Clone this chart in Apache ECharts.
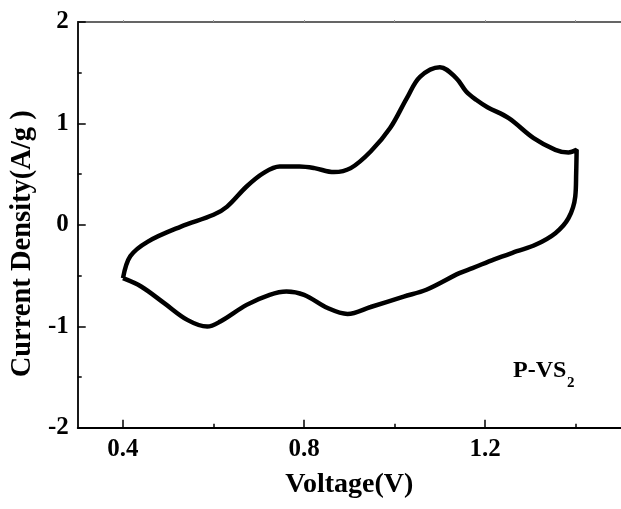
<!DOCTYPE html>
<html>
<head>
<meta charset="utf-8">
<script src="https://cdn.jsdelivr.net/npm/echarts@6/dist/echarts.min.js"></script>
<style>
  html, body { margin: 0; padding: 0; background: #fff; }
  #chart { width: 621px; height: 509px; }
</style>
</head>
<body>
<div id="chart"></div>
<script>
// CV 曲线：上半支（正扫）+ 下半支（回扫），按顺序连成闭环
const voltage = [
  0.400, 0.416, 0.455, 0.528, 0.600, 0.630, 0.673, 0.710, 0.746, 0.790,
  0.823, 0.866, 0.903, 0.947, 0.990, 1.027, 1.056, 1.100, 1.136, 1.158,
  1.180, 1.205, 1.252, 1.307, 1.355, 1.384, 1.402,
  1.401, 1.399, 1.384, 1.355, 1.311, 1.270, 1.220, 1.172, 1.143, 1.070,
  1.020, 0.947, 0.896, 0.852, 0.800, 0.761, 0.724, 0.673, 0.615, 0.586,
  0.542, 0.491, 0.440, 0.400
]
const current = [
  -0.526, -0.310, -0.165, -0.017, 0.099, 0.180, 0.378, 0.510, 0.575, 0.575,
  0.559, 0.520, 0.559, 0.723, 0.954, 1.250, 1.460, 1.555, 1.447, 1.315,
  1.233, 1.160, 1.052, 0.855, 0.740, 0.713, 0.740,
  0.510, 0.280, 0.066, -0.082, -0.197, -0.260, -0.340, -0.427, -0.476, -0.640,
  -0.707, -0.810, -0.878, -0.820, -0.690, -0.657, -0.690, -0.789, -0.953, -1.003,
  -0.937, -0.772, -0.608, -0.526
]
const xMajor = [0.4, 0.8, 1.2]
const xMinor = [0.6, 1.0, 1.4]
const xTop = [0.4, 0.6, 0.8, 1.0, 1.2, 1.4]

window.onload = function () {
    let myChart = echarts.init(document.getElementById('chart'))
    let pts = []
    for (let i = 0; i < voltage.length; i++) {
        pts.push([voltage[i], current[i]])
    }
    let font = 'Liberation Serif'
    let hidden = { show: false }
    let option = {
        animation: false,
        backgroundColor: '#fff',
        grid: { left: 77.5, right: -5, top: 22, bottom: 81.3 },
        xAxis: [
            {
                type: 'value', min: 0.3, max: 1.5, position: 'bottom',
                name: 'Voltage(V)', nameLocation: 'middle', nameGap: 43,
                nameTextStyle: { fontFamily: font, fontWeight: 'bold', fontSize: 28, color: '#000' },
                axisLine: { onZero: false, lineStyle: { color: '#000', width: 1.8 } },
                axisTick: { inside: true, length: 8, customValues: xMajor, lineStyle: { color: '#000', width: 1.5 } },
                axisLabel: { customValues: xMajor, margin: 9, fontFamily: font, fontWeight: 'bold', fontSize: 25, color: '#000',
                    formatter: function (v) { return v.toFixed(1) } },
                splitLine: hidden
            },
            {
                type: 'value', min: 0.3, max: 1.5, position: 'bottom',
                axisLine: { show: false, onZero: false },
                axisTick: { inside: true, length: 4, customValues: xMinor, lineStyle: { color: '#000', width: 1.5 } },
                axisLabel: { show: false, customValues: xMinor },
                splitLine: hidden
            },
            {
                type: 'value', min: 0.3, max: 1.5, position: 'top',
                axisLine: { onZero: false, lineStyle: { color: '#333', width: 1.5 } },
                axisTick: { inside: false, length: 2, customValues: xTop, lineStyle: { color: '#999', width: 1 } },
                axisLabel: { show: false, customValues: xTop },
                splitLine: hidden
            }
        ],
        yAxis: {
            type: 'value', min: -2, max: 2, interval: 1,
            name: 'Current Density(A/g )', nameLocation: 'middle', nameGap: 30,
            nameTextStyle: { fontFamily: font, fontWeight: 'bold', fontSize: 28.5, color: '#000', padding: [0, 38, 0, 0] },
            axisLine: { onZero: false, lineStyle: { color: '#000', width: 1.8 } },
            axisTick: { inside: true, length: 8, lineStyle: { color: '#000', width: 1.5 } },
            minorTick: { show: true, splitNumber: 2, length: 4, lineStyle: { color: '#000', width: 1.5 } },
            axisLabel: { margin: 9, fontFamily: font, fontWeight: 'bold', fontSize: 25, color: '#000' },
            splitLine: hidden
        },
        graphic: [
            { type: 'text', left: 513, top: 359, style: { text: 'P-VS', font: 'bold 24px "Liberation Serif"', fill: '#000' } },
            { type: 'text', left: 567, top: 376, style: { text: '2', font: 'bold 15px "Liberation Serif"', fill: '#000' } }
        ],
        series: [{
            type: 'line',
            data: pts,
            showSymbol: false,
            smooth: 0.35,
            lineStyle: { color: '#000', width: 4.5 }
        }]
    }
    myChart.setOption(option)
}
</script>
</body>
</html>
